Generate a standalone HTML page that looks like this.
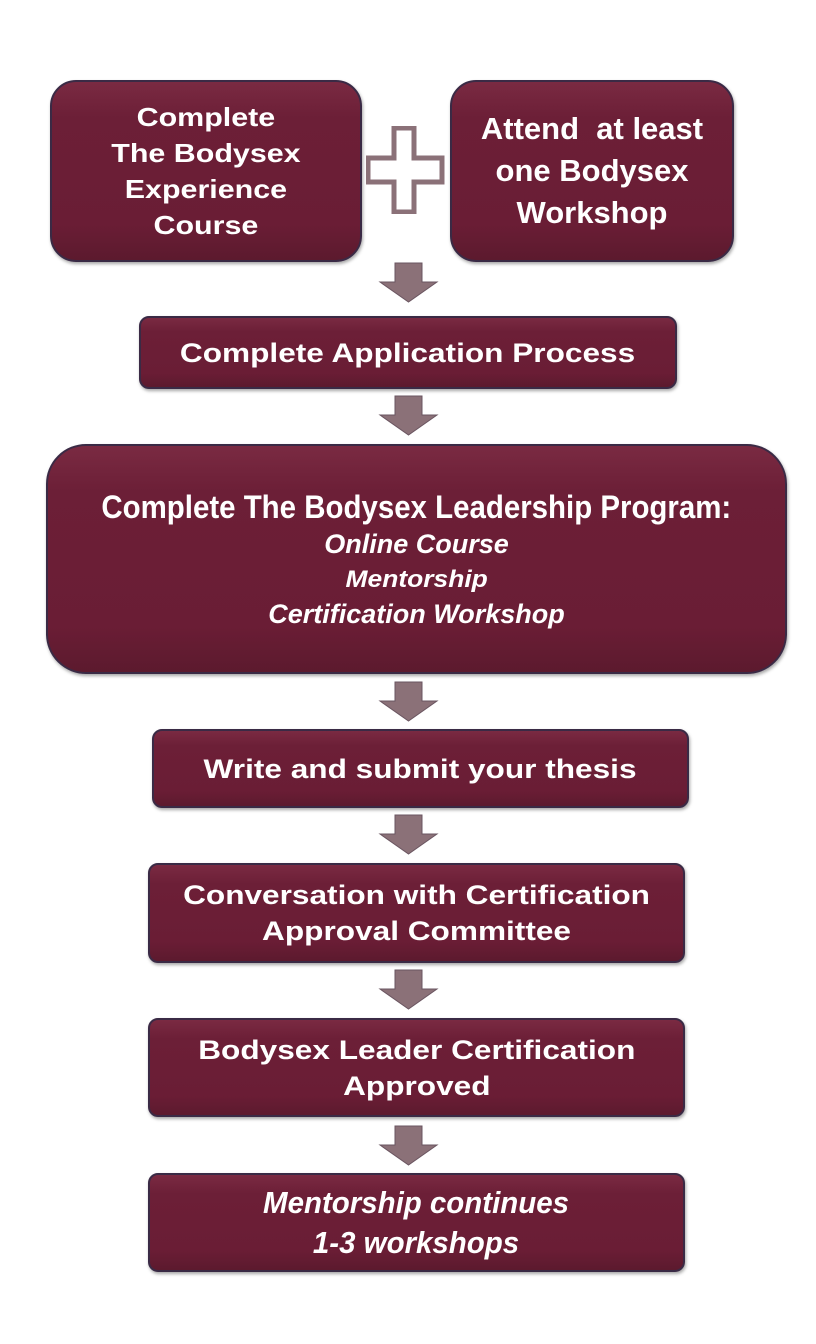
<!DOCTYPE html>
<html><head><meta charset="utf-8"><style>
html,body{margin:0;padding:0;background:#fff;}
body{width:816px;height:1344px;position:relative;overflow:hidden;}
.b{position:absolute;box-sizing:border-box;background:linear-gradient(#7a2a42,#6c1f37 20%,#6a1d35 80%,#5c1a2e);border:2px solid #3a2a45;border-radius:14px;color:#fff;display:flex;flex-direction:column;align-items:center;justify-content:center;text-align:center;font-family:"Liberation Sans",sans-serif;font-weight:bold;box-shadow:1px 2px 3px rgba(0,0,0,.35);}
.m{font-size:27px;line-height:36px;}
.w{display:inline-block;transform:scaleX(1.17);white-space:nowrap;}
.c{font-family:"Liberation Sans Narrow","Liberation Sans",sans-serif;font-weight:bold;}
.i{font-style:italic;}
svg{position:absolute;}
</style></head><body>
<div class="b m" style="left:50px;top:80px;width:312px;height:182px;border-radius:26px;font-size:26px;line-height:36px;"><span class="w">Complete<br>The Bodysex<br>Experience<br>Course</span></div>
<svg style="left:366px;top:126px" width="80" height="88"><path d="M28 2H48V32H76V56H48V86H28V56H2V32H28Z" fill="#fff" stroke="#8b7178" stroke-width="5"/></svg>
<div class="b c" style="left:450px;top:80px;width:284px;height:182px;border-radius:26px;font-size:31px;line-height:42px;"><span>Attend&nbsp; at least<br>one Bodysex<br>Workshop</span></div>

<div class="b m" style="left:139px;top:316px;width:538px;height:73px;border-radius:10px;"><span class="w">Complete Application Process</span></div>

<div class="b" style="left:46px;top:444px;width:741px;height:230px;border-radius:40px;"><div class="c" style="font-size:32px;line-height:40px;transform:scaleX(.92);white-space:nowrap">Complete The Bodysex Leadership Program:</div><div class="c i" style="font-size:27px;line-height:34px;">Online Course<br><span style="font-family:'Liberation Sans',sans-serif;font-size:24px;display:inline-block;transform:scaleX(1.1)">Mentorship</span><br>Certification Workshop</div></div>

<div class="b m" style="left:152px;top:729px;width:537px;height:79px;border-radius:10px;"><span class="w">Write and submit your thesis</span></div>
<div class="b m" style="left:148px;top:863px;width:537px;height:100px;border-radius:10px;"><span class="w">Conversation with Certification<br>Approval Committee</span></div>
<div class="b m" style="left:148px;top:1018px;width:537px;height:99px;border-radius:10px;"><span class="w">Bodysex Leader Certification<br>Approved</span></div>
<div class="b c i" style="left:148px;top:1173px;width:537px;height:99px;border-radius:10px;font-size:31px;line-height:40px;"><span style="display:inline-block;transform:scaleX(.95)">Mentorship continues<br>1-3 workshops</span></div>

<svg width="816" height="1344" style="left:0;top:0">
<defs><path id="a" d="M395 0H422V19H437L408.5 39L380 19H395Z" fill="#8b7178" stroke="#6a5560" stroke-width="1"/></defs>
<use href="#a" y="263"/>
<use href="#a" y="396"/>
<use href="#a" y="682"/>
<use href="#a" y="815"/>
<use href="#a" y="970"/>
<use href="#a" y="1126"/>
</svg>
</body></html>
